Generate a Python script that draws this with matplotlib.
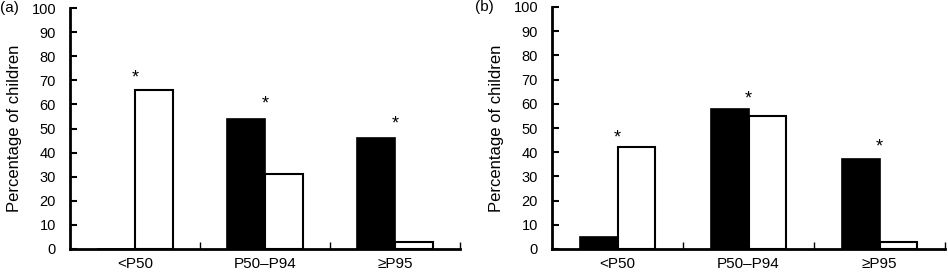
import matplotlib.pyplot as plt
import numpy as np

plt.rcParams['font.family'] = ['Liberation Sans', 'DejaVu Sans']

categories = ['<P50', 'P50\u2013P94', '\u2265P95']
black_a = [0, 54, 46]
white_a = [66, 31, 3]
star_a = [71, 60, 52]

black_b = [5, 58, 37]
white_b = [42, 55, 3]
star_b = [46, 62, 42]

W, H = 948, 275
fig = plt.figure(figsize=(W / 100, H / 100), dpi=100)

ax_a = fig.add_axes([70 / W, 26 / H, 390 / W, 241 / H])
ax_b = fig.add_axes([552 / W, 26 / H, 393 / W, 242 / H])

x = np.arange(len(categories))
width = 0.29


def draw(ax, black, white, stars, tag):
    ax.bar(x - width / 2, black, width, color='black', edgecolor='black', linewidth=1.2)
    ax.bar(x + width / 2, white, width, color='white', edgecolor='black', linewidth=1.5)
    for xi, s in zip(x, stars):
        ax.text(xi, s, '*', ha='center', va='center', fontsize=13)
    ax.set_xlim(-0.5, 2.5)
    ax.set_ylim(0, 100)
    ax.set_yticks(range(0, 101, 10))
    ax.set_xticks(x)
    ax.set_xticklabels(categories, fontsize=11)
    ax.set_xticks([0.5, 1.5, 2.5], minor=True)
    ax.tick_params(axis='x', which='major', length=0, pad=6)
    ax.tick_params(axis='x', which='minor', direction='in', length=5, width=1)
    ax.tick_params(axis='y', direction='in', length=5, width=1.5, labelsize=10.5, pad=10)
    ax.spines['top'].set_visible(False)
    ax.spines['right'].set_visible(False)
    ax.spines['left'].set_linewidth(2)
    ax.spines['bottom'].set_linewidth(2)
    ax.set_ylabel('Percentage of children', fontsize=12, labelpad=7)
    ax.text(-0.18, 1.0, tag, transform=ax.transAxes, fontsize=11, ha='left', va='center')


draw(ax_a, black_a, white_a, star_a, '(a)')
draw(ax_b, black_b, white_b, star_b, '(b)')
ax_b.texts[-1].set_x(-0.195)

plt.savefig('out.png', dpi=100)
